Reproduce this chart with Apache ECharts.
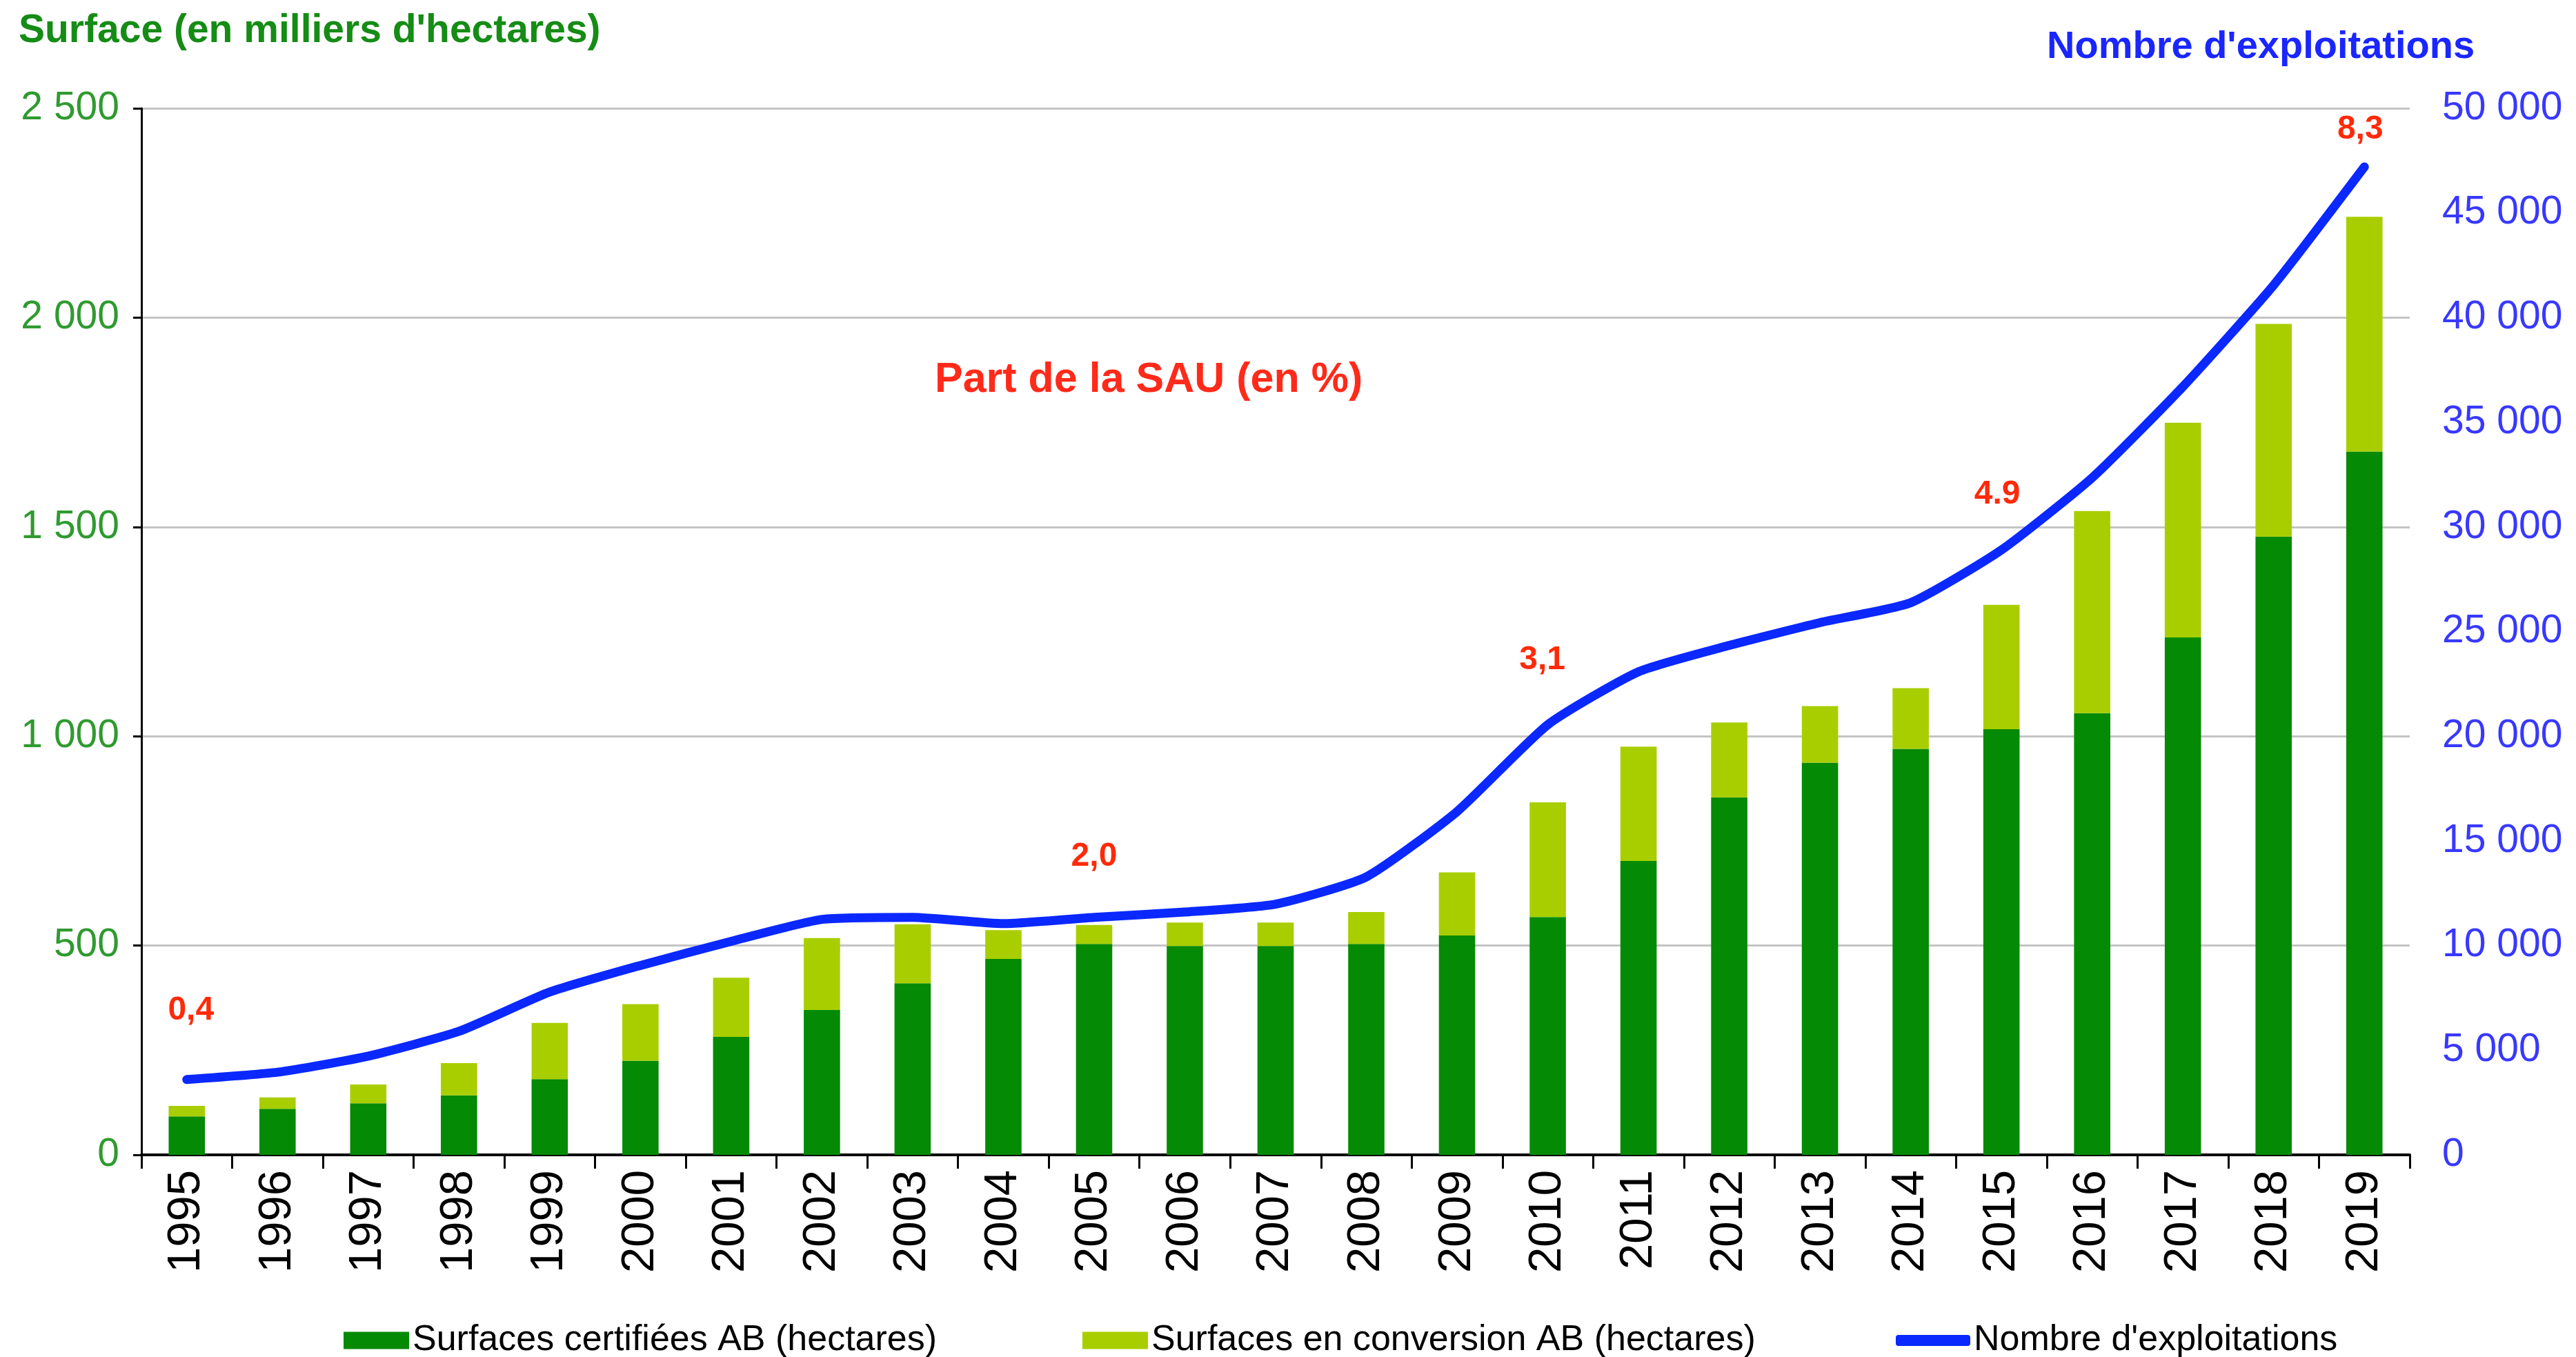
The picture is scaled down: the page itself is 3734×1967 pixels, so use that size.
<!DOCTYPE html>
<html>
<head>
<meta charset="utf-8">
<script src="https://cdn.jsdelivr.net/npm/echarts@6/dist/echarts.min.js"></script>
<style>
  html, body { margin: 0; padding: 0; background: #fff; }
  #chart { width: 3734px; height: 1967px; }
</style>
</head>
<body>
<div id="chart"></div>
<script>
// Agriculture biologique en France, 1995-2019
const years = ['1995','1996','1997','1998','1999','2000','2001','2002','2003','2004','2005','2006','2007',
               '2008','2009','2010','2011','2012','2013','2014','2015','2016','2017','2018','2019'];

// Surfaces certifiées AB (milliers d'hectares)
const certified = [92, 110, 123, 142, 181, 225, 282, 346, 410, 468, 504, 499, 499,
                   504, 524, 568, 702, 854, 937, 970, 1017, 1055, 1236, 1477, 1680];

// Surfaces en conversion AB (milliers d'hectares)
const conversion = [25, 27, 45, 77, 134, 135, 141, 172, 141, 69, 45, 56, 56,
                    76, 151, 274, 273, 179, 135, 145, 297, 483, 513, 508, 561];

// Nombre d'exploitations
const farms = [3600, 3950, 4720, 5900, 7780, 9050, 10200, 11250, 11350, 11050, 11350, 11600, 11980,
               13280, 16400, 20550, 23080, 24340, 25430, 26380, 28900, 32350, 36700, 41550, 47200];

// Part de la SAU (en %) annotée sur la courbe
const shareYears = ['1995', '2005', '2010', '2015', '2019'];
const shareText  = ['0,4', '2,0', '3,1', '4.9', '8,3'];

// Axis ticks
const leftTicks  = { min: 0, max: 2500, interval: 500 };
const rightTicks = { min: 0, max: 50000, interval: 5000 };

// label placement above the curve (style only)
const shareLabelLift = [76, 64, 70, 56, 30];
const shareLabelShift = [6, 0, -8, -6, -6];

const fmt = v => String(v).replace(/\B(?=(\d{3})+(?!\d))/g, ' ');

const lineData = farms.map((v, i) => {
  const k = shareYears.indexOf(years[i]);
  if (k < 0) return { value: v, label: { show: false } };
  return {
    value: v,
    label: {
      show: true,
      position: 'top',
      distance: shareLabelLift[k],
      offset: [shareLabelShift[k], 0],
      formatter: shareText[k],
      color: '#ff2a0a',
      fontFamily: 'Liberation Sans',
      fontWeight: 'bold',
      fontSize: 48
    }
  };
});

const chart = echarts.init(document.getElementById('chart'), null, { renderer: 'canvas' });

const legendText = { fontFamily: 'Liberation Sans', fontSize: 52, color: '#000' };

chart.setOption({
  animation: false,
  backgroundColor: '#ffffff',
  title: [
    {
      text: "Surface (en milliers d'hectares)",
      left: 22, top: 12,
      textStyle: { fontFamily: 'Liberation Sans', fontWeight: 'bold', fontSize: 57, color: '#158c15' }
    },
    {
      text: "Nombre d'exploitations",
      left: 2962, top: 36,
      textStyle: { fontFamily: 'Liberation Sans', fontWeight: 'bold', fontSize: 56, color: '#1a26ff' }
    },
    {
      text: 'Part de la SAU (en %)',
      left: 1350, top: 516,
      textStyle: { fontFamily: 'Liberation Sans', fontWeight: 'bold', fontSize: 61, color: '#ff2a1a' }
    }
  ],
  legend: [
    {
      data: ['Surfaces certifiées AB (hectares)'],
      left: 493, top: 1912,
      icon: 'rect', itemWidth: 95, itemHeight: 25,
      textStyle: legendText
    },
    {
      data: ['Surfaces en conversion AB (hectares)'],
      left: 1564, top: 1912,
      icon: 'rect', itemWidth: 95, itemHeight: 25,
      textStyle: legendText
    },
    {
      data: ["Nombre d'exploitations"],
      left: 2743, top: 1912,
      icon: 'roundRect', itemWidth: 108, itemHeight: 16,
      textStyle: legendText
    }
  ],
  grid: {
    left: 205, right: 241, top: 157, bottom: 293,
    outerBoundsMode: 'none'
  },
  xAxis: {
    type: 'category',
    data: years,
    boundaryGap: true,
    axisLine: { lineStyle: { color: '#000', width: 4 } },
    axisTick: { show: true, alignWithLabel: false, length: 20, lineStyle: { color: '#000', width: 3 } },
    axisLabel: {
      rotate: 90, margin: 22, interval: 0,
      fontFamily: 'Liberation Sans', fontSize: 67, color: '#000'
    }
  },
  yAxis: [
    {
      type: 'value',
      min: leftTicks.min, max: leftTicks.max, interval: leftTicks.interval,
      axisLine: { show: true, lineStyle: { color: '#000', width: 3 } },
      axisTick: { show: true, length: 12, lineStyle: { color: '#000', width: 3 } },
      splitLine: { show: true, lineStyle: { color: '#c4c4c4', width: 3 } },
      axisLabel: {
        margin: 32, formatter: fmt,
        fontFamily: 'Liberation Sans', fontSize: 57, color: '#2f9a2f'
      }
    },
    {
      type: 'value',
      min: rightTicks.min, max: rightTicks.max, interval: rightTicks.interval,
      axisLine: { show: false },
      axisTick: { show: false },
      splitLine: { show: false },
      axisLabel: {
        margin: 47, formatter: fmt,
        fontFamily: 'Liberation Sans', fontSize: 57, color: '#3838ff'
      }
    }
  ],
  series: [
    {
      name: 'Surfaces certifiées AB (hectares)',
      type: 'bar', stack: 'surface', barWidth: '40%',
      itemStyle: { color: '#058a05' },
      data: certified
    },
    {
      name: 'Surfaces en conversion AB (hectares)',
      type: 'bar', stack: 'surface', barWidth: '40%',
      itemStyle: { color: '#a8ce00' },
      data: conversion
    },
    {
      name: "Nombre d'exploitations",
      type: 'line', yAxisIndex: 1,
      smooth: 0.18,
      showSymbol: true, symbol: 'circle', symbolSize: 0,
      lineStyle: { color: '#0a28ff', width: 13, cap: 'round', join: 'round' },
      itemStyle: { color: '#0a28ff' },
      data: lineData,
      z: 5
    }
  ]
});
</script>
</body>
</html>
